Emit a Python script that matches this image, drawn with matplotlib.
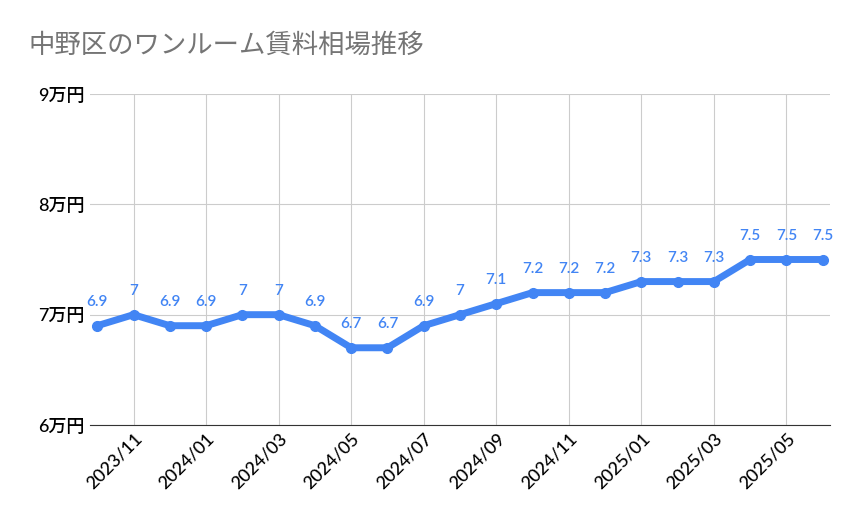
import matplotlib
matplotlib.use("Agg")
import matplotlib.pyplot as plt

plt.rcParams["font.family"] = ["Lato", "Noto Sans CJK JP"]

months = ["2023/10","2023/11","2023/12","2024/01","2024/02","2024/03","2024/04","2024/05","2024/06",
          "2024/07","2024/08","2024/09","2024/10","2024/11","2024/12","2025/01","2025/02","2025/03",
          "2025/04","2025/05","2025/06"]
values = [6.9,7,6.9,6.9,7,7,6.9,6.7,6.7,6.9,7,7.1,7.2,7.2,7.2,7.3,7.3,7.3,7.5,7.5,7.5]
yticks = [6,7,8,9]
ytick_labels = ["6万円","7万円","8万円","9万円"]

fig = plt.figure(figsize=(8.59,5.31), dpi=100)
ax = fig.add_axes([90/859, 1-425/531, 740/859, 331/531])
x = list(range(len(months)))
color = "#4285f4"
ax.plot(x, values, color=color, lw=5, marker="o", ms=7, solid_capstyle="round", zorder=3)
for xi, v in zip(x, values):
    ax.annotate(f"{v:g}", (xi, v), xytext=(0, 12), textcoords="offset points",
                ha="center", va="bottom", color=color, fontsize=11, fontweight="semibold")
ax.set_xlim(-0.2, len(months)-1+0.2)
ax.set_ylim(6, 9)
ax.set_yticks(yticks)
ax.set_yticklabels(ytick_labels, fontsize=13, fontweight="medium")
tick_idx = x[1::2]
ax.set_xticks(tick_idx)
ax.set_xticklabels([months[i] for i in tick_idx], rotation=45, ha="right", rotation_mode="anchor",
                   fontsize=13, fontweight="medium")
ax.grid(True, color="#cccccc", lw=0.8)
ax.set_axisbelow(True)
for s in ax.spines.values():
    s.set_visible(False)
ax.spines["bottom"].set_visible(True)
ax.spines["bottom"].set_color("#333333")
ax.tick_params(length=0, pad=4)
fig.text(28/859, 1-45/531, "中野区のワンルーム賃料相場推移", fontsize=19, color="#757575", va="center")
fig.savefig("out.png", dpi=100)
